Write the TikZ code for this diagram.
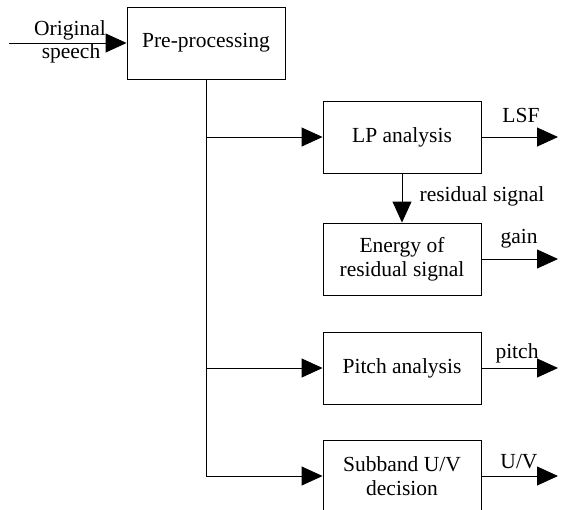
\documentclass[tikz,border=0pt]{standalone}
\usepackage{fontspec}
\setmainfont{Liberation Serif}
\usetikzlibrary{arrows.meta}
\begin{document}
\begin{tikzpicture}[x=1pt,y=-1pt]
\tikzset{boite/.style={draw, line width=0.9pt, minimum width=158pt, minimum height=72pt, inner sep=0pt, align=center},
fleche/.style={line width=0.9pt, -{Triangle[length=21pt,width=19pt]}},
every node/.style={font=\fontsize{21.5}{24}\selectfont}}
\useasboundingbox (0,0) rectangle (561,509);
\node[boite] (PRE) at (206,43) {Pre-processing};
\node[boite] (LP) at (402,137) {LP analysis};
\node[boite] (EN) at (402,259) {Energy of\\residual signal};
\node[boite] (PI) at (402,368) {Pitch analysis};
\node[boite] (UV) at (402,476) {Subband U/V\\decision};
\coordinate (IN) at (9,43);
\coordinate (B1) at (206,137);
\coordinate (B2) at (206,368);
\coordinate (B3) at (206,476);
\coordinate (O1) at (558,137);
\coordinate (O2) at (558,259);
\coordinate (O3) at (558,368);
\coordinate (O4) at (558,476);
\draw[fleche] (IN) -- (PRE);
\draw[line width=0.9pt] (PRE) -- (B3);
\draw[fleche] (B1) -- (LP);
\draw[fleche] (B2) -- (PI);
\draw[fleche] (B3) -- (UV);
\draw[fleche] (LP) -- (EN);
\draw[fleche] (LP) -- (O1);
\draw[fleche] (EN) -- (O2);
\draw[fleche] (PI) -- (O3);
\draw[fleche] (UV) -- (O4);
\node[anchor=base] (T1) at (70,35) {Original};
\node[anchor=base] (T2) at (71,58) {speech};
\node[anchor=base] (T3) at (521,122) {LSF};
\node[anchor=base] (T4) at (482,201) {residual signal};
\node[anchor=base] (T5) at (519,243) {gain};
\node[anchor=base] (T6) at (517,358) {pitch};
\node[anchor=base] (T7) at (519,468) {U/V};
\end{tikzpicture}
\end{document}
